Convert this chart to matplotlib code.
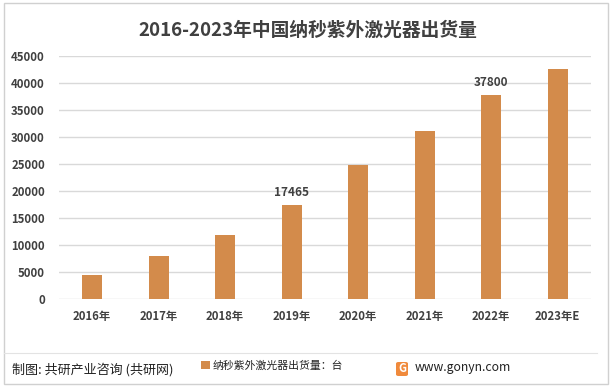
import matplotlib
matplotlib.use("Agg")
import matplotlib.pyplot as plt
from matplotlib.patches import FancyBboxPatch, Rectangle
from matplotlib.lines import Line2D

plt.rcParams['font.family'] = ['Noto Sans CJK SC', 'DejaVu Sans']

# データ
years = ['2016年', '2017年', '2018年', '2019年', '2020年', '2021年', '2022年', '2023年E']
shipments = [4450, 8000, 11850, 17465, 24900, 31200, 37800, 42600]
labeled = {3: '17465', 6: '37800'}

bar_color = '#D38B4B'
text_color = '#404040'

fig = plt.figure(figsize=(6.13, 3.89), dpi=100)

# 外枠と区切り線
fig.add_artist(Rectangle((4 / 613, 1 - 384 / 389), 604 / 613, 381 / 389,
                         transform=fig.transFigure, fill=False,
                         edgecolor='#D0D0D0', linewidth=1.0))
fig.add_artist(Line2D([4 / 613, 597 / 613], [1 - 353 / 389, 1 - 353 / 389],
                      transform=fig.transFigure, color='#E3E3E3', linewidth=0.8))

ax = fig.add_axes([58.75 / 613, 1 - 299 / 389, (591 - 58.75) / 613, (299 - 56) / 389])
ax.patch.set_alpha(0)

bars = ax.bar(range(len(years)), shipments, width=0.3, color=bar_color,
              label='纳秒紫外激光器出货量：台', zorder=3)

for i, txt in labeled.items():
    ax.text(i, shipments[i] + 1100, txt, ha='center', va='bottom',
            fontsize=8.5, color=text_color, fontweight='bold')

ax.set_xlim(-0.5, len(years) - 0.5)
ax.set_ylim(0, 45000)
ax.set_yticks(range(0, 45001, 5000))
ax.set_xticks(range(len(years)))
ax.set_xticklabels(years)
ax.tick_params(axis='both', length=0, labelsize=8.2, labelcolor=text_color)
ax.tick_params(axis='x', pad=8)
ax.tick_params(axis='y', pad=10)
for lab in ax.get_xticklabels() + ax.get_yticklabels():
    lab.set_fontweight('bold')
ax.grid(axis='y', color='#D9D9D9', linewidth=1.0, zorder=0)
for s in ax.spines.values():
    s.set_visible(False)

fig.text(0.503, 1 - 30 / 389, '2016-2023年中国纳秒紫外激光器出货量', ha='center', va='center',
         fontsize=13.5, fontweight='bold', color=text_color)

# 凡例
fig.legend(handles=[bars], loc='center left', bbox_to_anchor=(196 / 613, 1 - 366 / 389),
           frameon=False, fontsize=7.8, handlelength=0.75, handleheight=0.75,
           handletextpad=0.3, borderpad=0, labelcolor='#222222')

# フッター
fig.text(12 / 613, 1 - 370 / 389, '制图: 共研产业咨询 (共研网)', ha='left', va='center',
         fontsize=9.4, color='#222222')
fig.add_artist(FancyBboxPatch((396 / 613, 1 - 376 / 389), 12 / 613, 14 / 389,
                              boxstyle='round,pad=0,rounding_size=0.004',
                              transform=fig.transFigure, facecolor='#F08A3C',
                              edgecolor='none'))
fig.text(402 / 613, 1 - 369 / 389, 'G', ha='center', va='center', fontsize=8,
         fontweight='bold', color='white')
fig.text(415 / 613, 1 - 368 / 389, 'www.gonyn.com', ha='left', va='center',
         fontsize=8.8, color='#222222')

fig.savefig('out.png', dpi=100)
